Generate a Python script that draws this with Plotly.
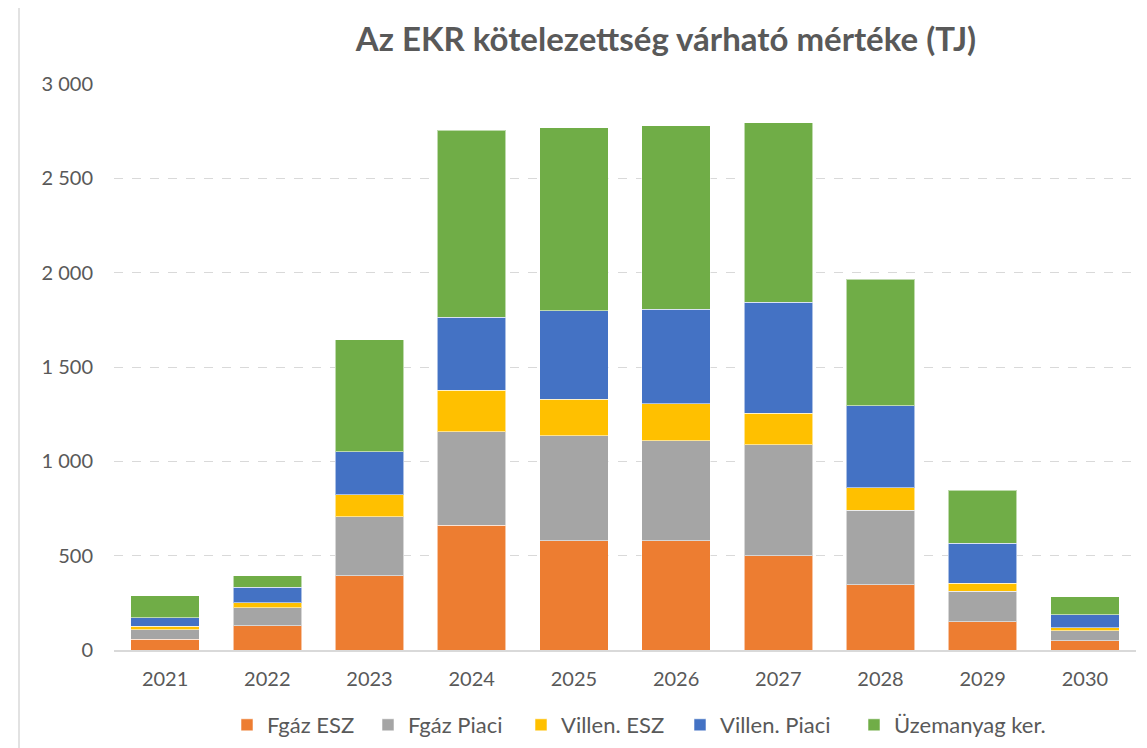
import plotly.graph_objects as go

years = ["2021", "2022", "2023", "2024", "2025", "2026", "2027", "2028", "2029", "2030"]
fgaz_esz = [57, 129, 394, 662, 578, 580, 499, 347, 149, 48]
fgaz_piaci = [51, 94, 312, 494, 557, 528, 588, 395, 163, 53]
villen_esz = [17, 28, 116, 222, 194, 196, 169, 119, 42, 16]
villen_piaci = [46, 81, 228, 387, 470, 501, 586, 434, 211, 69]
uzemanyag = [117, 62, 595, 991, 970, 975, 952, 670, 283, 95]

series = [
    ("Fgáz ESZ", fgaz_esz, "#ED7D31"),
    ("Fgáz Piaci", fgaz_piaci, "#A5A5A5"),
    ("Villen. ESZ", villen_esz, "#FFC000"),
    ("Villen. Piaci", villen_piaci, "#4472C4"),
    ("Üzemanyag ker.", uzemanyag, "#70AD47"),
]
# left edge (reference pixels) of each legend square
legend_square_x = [241, 382, 535, 694, 868]

FONT = "Lato"
GREY = "#595959"

# page has an 8px body margin: work in reference pixels, shift by 8
OFF = 8
W, H = 1147 - OFF, 748 - OFF
L, R, T, B = 114 - OFF, 11, 84 - OFF, 98
pw = W - L - R
ph = H - T - B


def px_x(p):
    return (p - OFF - L) / pw


def px_y(p):
    return (H - B - (p - OFF)) / ph


fig = go.Figure()
legends = {}
for i, (name, vals, color) in enumerate(series):
    lg = "legend" if i == 0 else f"legend{i + 1}"
    fig.add_trace(go.Bar(
        x=years, y=vals, name=name, legend=lg,
        marker=dict(color=color, line=dict(color="rgba(255,255,255,0.55)", width=1)),
    ))
    legends[lg] = dict(
        orientation="h",
        x=px_x(legend_square_x[i] - 14), xanchor="left",
        y=px_y(725), yanchor="middle",
        font=dict(family=FONT, size=22, color=GREY),
        bgcolor="rgba(0,0,0,0)",
    )

fig.update_layout(
    width=W, height=H,
    barmode="stack",
    bargap=0.33,
    separators=", ",
    plot_bgcolor="white",
    paper_bgcolor="white",
    margin=dict(l=L, r=R, t=T, b=B, autoexpand=False),
    font=dict(family=FONT, color=GREY, size=20),
    title=dict(
        text="<b>Az EKR kötelezettség várható mértéke (TJ)</b>",
        x=px_x(666), xref="paper", xanchor="center",
        y=1 - (39 - OFF) / H, yref="container", yanchor="middle",
        font=dict(family=FONT, size=33, color=GREY),
    ),
    showlegend=True,
    xaxis=dict(
        showgrid=False,
        showline=True, linecolor="#D9D9D9", linewidth=2,
        ticks="", tickfont=dict(size=20, color=GREY),
        ticklabelstandoff=10,
    ),
    yaxis=dict(
        range=[0, 3000],
        tickvals=[0, 500, 1000, 1500, 2000, 2500, 3000],
        tickformat=",d",
        showgrid=True, gridcolor="#D9D9D9", griddash="dash", gridwidth=1,
        zeroline=False, showline=False,
        ticks="", tickfont=dict(size=20, color=GREY),
        ticklabelstandoff=20,
    ),
    **legends,
)

# chart area border
fig.add_shape(
    type="rect", xref="paper", yref="paper",
    x0=px_x(19), x1=px_x(1144), y0=px_y(770), y1=px_y(7),
    line=dict(color="#D9D9D9", width=1.5), fillcolor="rgba(0,0,0,0)",
    layer="below",
)

fig.write_html("out.html")
